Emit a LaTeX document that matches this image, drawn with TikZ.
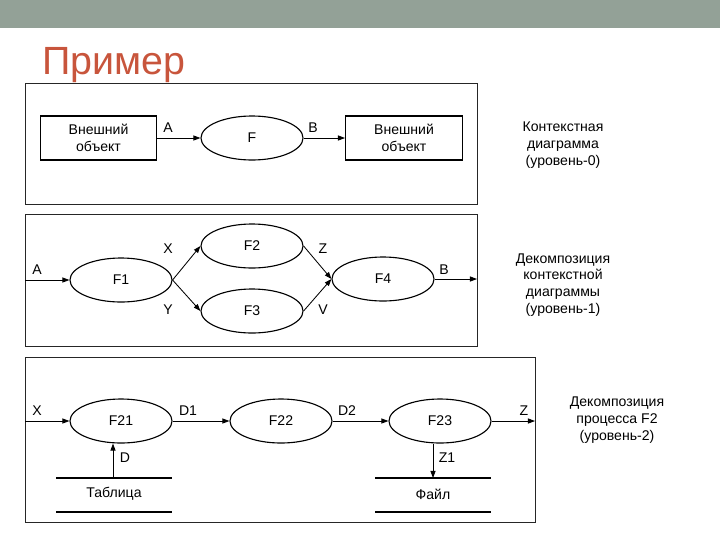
\documentclass[tikz,border=0pt]{standalone}
\usepackage{fontspec}
\setmainfont{Liberation Sans}
\usepackage{xcolor}
\usepackage{tikz}
\usetikzlibrary{shapes.geometric,arrows.meta,positioning}
\definecolor{clrBar}{HTML}{93A197}
\definecolor{clrTitle}{HTML}{C8553C}
\tikzset{
  proc/.style={ellipse, draw, line width=0.8pt, minimum width=2.55cm,
    minimum height=1.1cm, inner sep=0pt, font=\fontsize{10}{12}\selectfont},
  extobj/.style={rectangle, draw, line width=0.8pt, minimum width=2.92cm,
    minimum height=1.1cm, align=center, font=\fontsize{10}{12}\selectfont},
  frame/.style={draw=black!85, line width=0.7pt},
  flow/.style={-{Triangle[length=5pt,width=3.6pt]}, line width=0.6pt},
  store/.style={line width=0.8pt},
  lbl/.style={font=\fontsize{10}{12}\selectfont, inner sep=0pt},
  note/.style={font=\fontsize{10}{12}\selectfont, align=center},
}
\begin{document}
\begin{tikzpicture}[x=0.025cm, y=-0.025cm]
\useasboundingbox (0,0) rectangle (720,540);

% ── Kopf ───────────────────────────────────────────────────────────────────
\fill[clrBar] (0,0) rectangle (720,28);
\node[anchor=base west, inner sep=0pt, text=clrTitle,
  font=\fontsize{28}{32}\selectfont] (title) at (42,74) {Пример};

% ── Уровень 0 ──────────────────────────────────────────────────────────────
\draw[frame] (25,83) rectangle (477,204);
\node[extobj] (srcA) at (98.5,138) {Внешний\\объект};
\node[proc] (pF) at (252,138) {F};
\node[extobj] (dstB) at (404,138) {Внешний\\объект};
\draw[flow] (srcA) -- (pF);
\draw[flow] (pF) -- (dstB);
\node[lbl] (lA0) at (168,128) {A};
\node[lbl] (lB0) at (313,128) {B};
\node[note] (n0) at (563,145) {Контекстная\\диаграмма\\(уровень-0)};

% ── Уровень 1 ──────────────────────────────────────────────────────────────
\draw[frame] (25,214) rectangle (477,346);
\coordinate (inA) at (25,280);
\coordinate (outB) at (477,279);
\node[proc] (pF1) at (121,280) {F1};
\node[proc] (pF2) at (252,246) {F2};
\node[proc] (pF3) at (252,311) {F3};
\node[proc] (pF4) at (383,279) {F4};
\draw[flow] (inA) -- (pF1);
\draw[flow] (pF1.east) -- (pF2.west);
\draw[flow] (pF1.east) -- (pF3.west);
\draw[flow] (pF2.east) -- (pF4.west);
\draw[flow] (pF3.east) -- (pF4.west);
\draw[flow] (pF4) -- (outB);
\node[lbl] (lA1) at (37,270) {A};
\node[lbl] (lX1) at (168,249) {X};
\node[lbl] (lY1) at (168,310) {Y};
\node[lbl] (lZ1) at (323,249) {Z};
\node[lbl] (lV1) at (323,310) {V};
\node[lbl] (lB1) at (444,270) {B};
\node[note] (n1) at (563,285)
  {Декомпозиция\\контекстной\\диаграммы\\(уровень-1)};

% ── Уровень 2 ──────────────────────────────────────────────────────────────
\draw[frame] (25,357) rectangle (535,522);
\coordinate (inX) at (25,421);
\coordinate (outZ) at (535,421);
\node[proc] (pF21) at (121,421) {F21};
\node[proc] (pF22) at (281,421) {F22};
\node[proc] (pF23) at (440,421) {F23};
\draw[flow] (inX) -- (pF21);
\draw[flow] (pF21) -- (pF22);
\draw[flow] (pF22) -- (pF23);
\draw[flow] (pF23) -- (outZ);
\node[lbl] (lX2) at (37,411) {X};
\node[lbl] (lD1) at (188,411) {D1};
\node[lbl] (lD2) at (347,411) {D2};
\node[lbl] (lZ2) at (524,411) {Z};

% хранилища данных
\draw[store] (56,478) -- (172,478);
\draw[store] (56,512) -- (172,512);
\node[lbl] (tbl) at (114,494) {Таблица};
\coordinate (tblTop) at (113,478);
\draw[flow] (tblTop) -- (tblTop |- pF21.south);
\node[lbl] (lD) at (125,458) {D};

\draw[store] (375,478) -- (491,478);
\draw[store] (375,512) -- (491,512);
\node[lbl] (fil) at (433,494) {Файл};
\coordinate (filTop) at (433,478);
\draw[flow] (filTop |- pF23.south) -- (filTop);
\node[lbl] (lZ1b) at (447,458) {Z1};

\node[note] (n2) at (617,420) {Декомпозиция\\процесса F2\\(уровень-2)};
\end{tikzpicture}
\end{document}
